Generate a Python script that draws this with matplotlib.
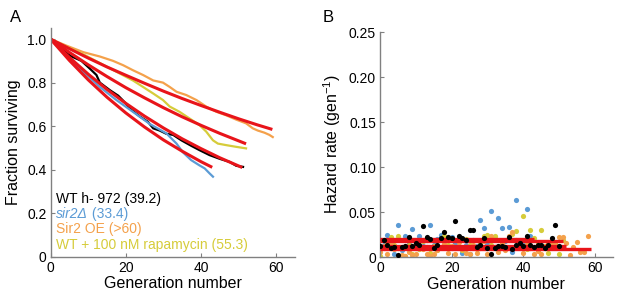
import matplotlib
matplotlib.use('Agg')
import matplotlib.pyplot as plt

plt.rcParams['font.family'] = ['Liberation Sans', 'DejaVu Sans']
plt.rcParams['mathtext.fontset'] = 'custom'
plt.rcParams['mathtext.rm'] = 'Liberation Sans'
plt.rcParams['mathtext.it'] = 'Liberation Sans:italic'

BLACK = '#000000'
BLUE = '#5B9BD5'
ORANGE = '#F4A14B'
YELLOW = '#D6CC3A'
RED = '#E8141A'
GREY = '#808080'

# ---- Panel A: survival curves ----
wt_gen = [0, 4.7, 5.6, 8.2, 10.4, 12.2, 13.1, 15.8, 18, 19.7, 21.5, 23.7, 25.9, 27.3, 29, 30.8,
          32.6, 34.8, 37.4, 39.6, 42.3, 45, 47.6, 49.4, 51.2]
wt_surv = [1.0, 0.93, 0.92, 0.90, 0.865, 0.835, 0.80, 0.765, 0.74, 0.71, 0.675, 0.645, 0.62, 0.59,
           0.58, 0.565, 0.56, 0.535, 0.51, 0.49, 0.467, 0.45, 0.436, 0.418, 0.413]

sir2_gen = [0, 4.2, 8.7, 13.1, 17.5, 21.9, 26.4, 30.8, 33.5, 35.2, 37.4, 39.6, 41, 42.3, 43.2]
sir2_surv = [1.0, 0.927, 0.85, 0.78, 0.72, 0.666, 0.61, 0.567, 0.52, 0.48, 0.444, 0.42, 0.406,
             0.383, 0.368]

oe_gen = [0, 4.2, 8.7, 13.1, 16.6, 19.3, 21.9, 24.6, 27.3, 29.9, 31.7, 33.5, 36.1, 38.8, 41.4,
          44.1, 46.7, 49.4, 52, 53.8, 55.1, 56.9, 58.2, 59.1]
oe_surv = [1.0, 0.97, 0.94, 0.92, 0.90, 0.88, 0.857, 0.835, 0.81, 0.80, 0.78, 0.758, 0.743, 0.72,
           0.69, 0.666, 0.65, 0.63, 0.613, 0.59, 0.58, 0.57, 0.56, 0.55]

rapa_gen = [0, 4.2, 8.7, 13.1, 17.5, 21.9, 24.6, 27.3, 29.9, 31.7, 34.3, 37, 39.6, 41.4, 43.2,
            44.5, 46.7, 49.4, 52]
rapa_surv = [1.0, 0.965, 0.93, 0.89, 0.85, 0.81, 0.78, 0.75, 0.72, 0.69, 0.666, 0.635, 0.605,
             0.575, 0.535, 0.52, 0.513, 0.505, 0.498]

# fitted curves
wt_fit_gen = [0, 5, 10, 15, 20, 25, 30, 35, 40, 45, 51]
wt_fit = [1.0, 0.916, 0.839, 0.769, 0.705, 0.646, 0.592, 0.542, 0.497, 0.455, 0.410]
sir2_fit_gen = [0, 5, 10, 15, 20, 25, 30, 35, 40, 43]
sir2_fit = [1.0, 0.902, 0.813, 0.733, 0.661, 0.596, 0.537, 0.485, 0.437, 0.411]
oe_fit_gen = [0, 5, 10, 15, 20, 25, 30, 35, 40, 45, 50, 55, 59]
oe_fit = [1.0, 0.956, 0.913, 0.872, 0.834, 0.797, 0.761, 0.727, 0.695, 0.664, 0.634, 0.606, 0.585]
rapa_fit_gen = [0, 5, 10, 15, 20, 25, 30, 35, 40, 45, 52]
rapa_fit = [1.0, 0.939, 0.882, 0.828, 0.777, 0.730, 0.685, 0.643, 0.604, 0.567, 0.519]

# ---- Panel B: hazard rates ----
wt_haz = [0.012, 0.019, 0.014, 0.010, 0.011, 0.002, 0.011, 0.012, 0.022, 0.012, 0.016, 0.013,
          0.035, 0.022, 0.020, 0.010, 0.013, 0.021, 0.028, 0.022, 0.021, 0.040, 0.024, 0.021,
          0.019, 0.030, 0.030, 0.011, 0.014, 0.021, 0.010, 0.004, 0.010, 0.012, 0.012, 0.011,
          0.022, 0.009, 0.013, 0.016, 0.012, 0.023, 0.014, 0.011, 0.014, 0.014, 0.010, 0.013,
          0.021, 0.036, 0.012]
sir2_haz = [0.010, 0.014, 0.025, 0.018, 0.003, 0.036, 0.008, 0.024, 0.015, 0.031, 0.017, 0.023,
            0.012, 0.019, 0.036, 0.014, 0.020, 0.025, 0.018, 0.011, 0.022, 0.016, 0.020, 0.005,
            0.014, 0.004, 0.019, 0.012, 0.041, 0.032, 0.015, 0.051, 0.020, 0.043, 0.032, 0.018,
            0.033, 0.006, 0.063, 0.016, 0.018, 0.054, 0.024]
oe_haz = [0.006, 0.012, 0.004, 0.015, 0.009, 0.010, 0.002, 0.001, 0.006, 0.002, 0.003, 0.014,
          0.009, 0.004, 0.001, 0.003, 0.008, 0.011, 0.015, 0.005, 0.012, 0.004, 0.017, 0.009,
          0.005, 0.003, 0.013, 0.005, 0.010, 0.018, 0.004, 0.023, 0.011, 0.006, 0.015, 0.008,
          0.024, 0.028, 0.019, 0.013, 0.005, 0.015, 0.010, 0.003, 0.007, 0.004, 0.011, 0.016,
          0.016, 0.014, 0.022, 0.022, 0.016, 0.002, 0.011, 0.017, 0.006, 0.006, 0.023]
rapa_haz = [0.0015, 0.010, 0.017, 0.022, 0.014, 0.023, 0.010, 0.0015, 0.013, 0.004, 0.016, 0.009,
            0.018, 0.011, 0.005, 0.012, 0.008, 0.020, 0.023, 0.014, 0.010, 0.019, 0.012, 0.008,
            0.020, 0.014, 0.011, 0.009, 0.017, 0.023, 0.025, 0.013, 0.023, 0.010, 0.016, 0.011,
            0.019, 0.026, 0.029, 0.018, 0.046, 0.009, 0.030, 0.021, 0.015, 0.030, 0.012, 0.005,
            0.013, 0.016, 0.004, 0.019]

# constant hazard fits: (rate, last generation)
haz_fits = [(0.0205, 43), (0.0178, 51), (0.0125, 52), (0.0090, 59)]


def style_axes(ax):
    for s in ['top', 'right']:
        ax.spines[s].set_visible(False)
    for s in ['left', 'bottom']:
        ax.spines[s].set_color(GREY)
        ax.spines[s].set_linewidth(1.0)
    ax.tick_params(direction='in', length=3, color=GREY, labelsize=10, pad=3)


fig = plt.figure(figsize=(6.17, 3.0), dpi=100, facecolor='white')

# Panel A
ax1 = fig.add_axes([0.082, 0.144, 0.396, 0.762])
ax1.plot(wt_gen, wt_surv, color=BLACK, lw=1.6)
ax1.plot(sir2_gen, sir2_surv, color=BLUE, lw=1.6)
ax1.plot(oe_gen, oe_surv, color=ORANGE, lw=1.6)
ax1.plot(rapa_gen, rapa_surv, color=YELLOW, lw=1.6)
for g, f in [(wt_fit_gen, wt_fit), (sir2_fit_gen, sir2_fit), (oe_fit_gen, oe_fit),
             (rapa_fit_gen, rapa_fit)]:
    ax1.plot(g, f, color=RED, lw=2.2, solid_capstyle='butt')
ax1.set_xlim(0, 65)
ax1.set_ylim(0, 1.05)
ax1.set_xticks([0, 20, 40, 60])
ax1.set_yticks([0, 0.2, 0.4, 0.6, 0.8, 1.0])
ax1.set_yticklabels(['0', '0.2', '0.4', '0.6', '0.8', '1.0'])
style_axes(ax1)
ax1.set_xlabel('Generation number', fontsize=11.5, labelpad=1)
ax1.set_ylabel('Fraction surviving', fontsize=11.5, labelpad=4)

ax1.text(1.4, 0.264, 'WT h- 972 (39.2)', color=BLACK, fontsize=10, va='center')
t = ax1.text(1.4, 0.195, 'sir2Δ', color=BLUE, fontsize=10, va='center', style='italic')
ax1.annotate(' (33.4)', xy=(1, 0.5), xycoords=t, color=BLUE, fontsize=10, va='center')
ax1.text(1.4, 0.126, 'Sir2 OE (>60)', color=ORANGE, fontsize=10, va='center')
ax1.text(1.4, 0.053, 'WT + 100 nM rapamycin (55.3)', color=YELLOW, fontsize=10, va='center')

fig.text(0.016, 0.965, 'A', fontsize=12, va='top')

# Panel B
ax2 = fig.add_axes([0.616, 0.143, 0.377, 0.750])
ax2.scatter(range(len(sir2_haz)), sir2_haz, s=14, color=BLUE, lw=0, zorder=2)
ax2.scatter(range(len(rapa_haz)), rapa_haz, s=14, color=YELLOW, lw=0, zorder=2)
ax2.scatter(range(len(oe_haz)), oe_haz, s=14, color=ORANGE, lw=0, zorder=2)
for rate, last in haz_fits:
    ax2.plot([0, last], [rate, rate], color=RED, lw=2.4, zorder=3, solid_capstyle='butt')
ax2.scatter(range(len(wt_haz)), wt_haz, s=14, color=BLACK, lw=0, zorder=4)
ax2.set_xlim(0, 65)
ax2.set_ylim(0, 0.25)
ax2.set_xticks([0, 20, 40, 60])
ax2.set_yticks([0, 0.05, 0.10, 0.15, 0.20, 0.25])
ax2.set_yticklabels(['0', '0.05', '0.10', '0.15', '0.20', '0.25'])
style_axes(ax2)
ax2.set_xlabel('Generation number', fontsize=11.5, labelpad=1)
ax2.set_ylabel('Hazard rate (gen$^{\\mathregular{-1}}$)', fontsize=11.5, labelpad=4)

fig.text(0.523, 0.965, 'B', fontsize=12, va='top')

plt.savefig('out.png', dpi=100, facecolor='white')
plt.close()
